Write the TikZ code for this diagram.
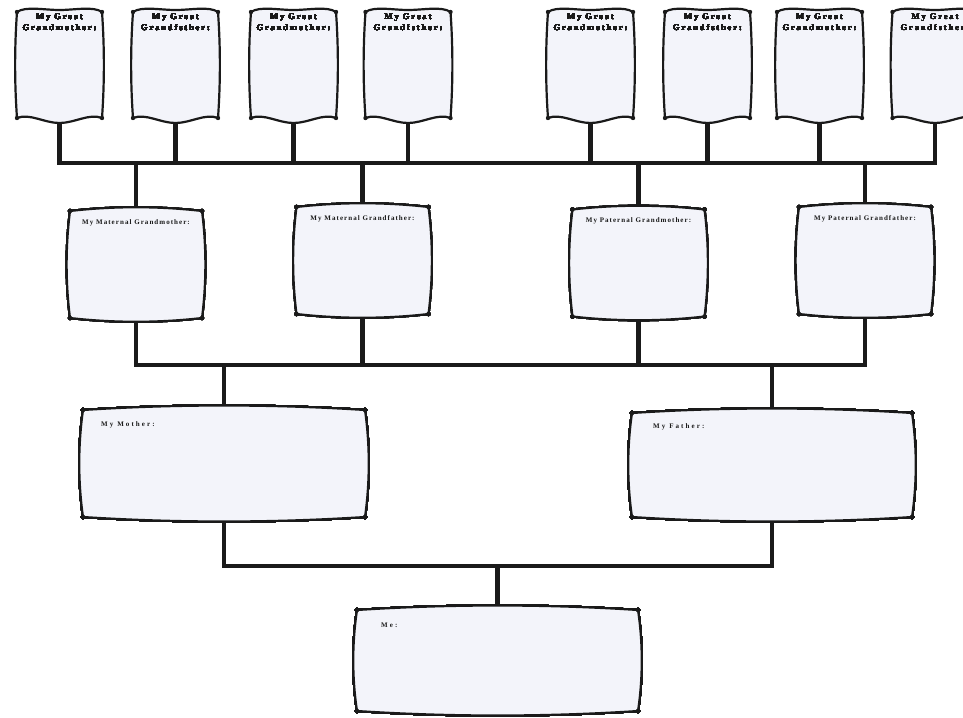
\documentclass[tikz,border=0pt]{standalone}
\usepackage{fontspec}
\setmainfont{Liberation Serif}
\newfontfamily\greatfont[LetterSpace=22]{Liberation Serif}
\newfontfamily\grandfont[LetterSpace=15]{Liberation Serif}
\newfontfamily\parentfont[LetterSpace=30]{Liberation Serif}
\usetikzlibrary{calc}
\definecolor{boxfill}{HTML}{F3F4FA}
\definecolor{ink}{HTML}{1A1A1A}
\tikzset{
  slot/.style={rectangle, inner sep=0pt, outer sep=0pt, minimum width=#1},
  conn/.style={line width=4.5pt, draw=ink, line cap=rect},
  boxline/.style={line width=2.2pt, draw=ink, fill=boxfill, line join=miter},
  toplbl/.style={font=\greatfont\bfseries\fontsize{8.5}{11}\selectfont, align=center, inner sep=0pt, anchor=north, text=ink},
  gplbl/.style={font=\grandfont\bfseries\fontsize{7}{8}\selectfont, inner sep=0pt, anchor=north, text=ink},
  parlbl/.style={font=\parentfont\bfseries\fontsize{7}{8}\selectfont, inner sep=0pt, anchor=north west, text=ink},
}
% pillow-shaped box: all edges bulge outwards
\newcommand\pillowbox[3]{%
  \filldraw[boxline] (#1.north west)
    .. controls ($(#1.north west)!.33!(#1.north east)+(0,#2)$) and ($(#1.north west)!.67!(#1.north east)+(0,#2)$) .. (#1.north east)
    .. controls ($(#1.north east)!.33!(#1.south east)+(#3,0)$) and ($(#1.north east)!.67!(#1.south east)+(#3,0)$) .. (#1.south east)
    .. controls ($(#1.south east)!.33!(#1.south west)+(0,-#2)$) and ($(#1.south east)!.67!(#1.south west)+(0,-#2)$) .. (#1.south west)
    .. controls ($(#1.south west)!.33!(#1.north west)+(-#3,0)$) and ($(#1.south west)!.67!(#1.north west)+(-#3,0)$) .. cycle;
  \foreach \c in {north west,north east,south east,south west} \fill[ink] (#1.\c) circle (2.3);
}
% scroll-shaped box for the top row
\newcommand\scrollbox[1]{%
  \filldraw[boxline] (#1.north west)
    .. controls ($(#1.north west)!.10!(#1.north east)+(0,6)$) and ($(#1.north west)!.32!(#1.north east)+(0,2)$) .. ($(#1.north west)!.5!(#1.north east)+(0,2)$)
    .. controls ($(#1.north west)!.68!(#1.north east)+(0,2)$) and ($(#1.north west)!.90!(#1.north east)+(0,6)$) .. (#1.north east)
    .. controls ($(#1.north east)!.33!(#1.south east)+(2.5,0)$) and ($(#1.north east)!.67!(#1.south east)+(2.5,0)$) .. (#1.south east)
    .. controls ($(#1.south east)!.15!(#1.south west)+(0,5)$) and ($(#1.south east)!.32!(#1.south west)+(0,-5)$) .. ($(#1.south east)!.5!(#1.south west)+(0,-5)$)
    .. controls ($(#1.south east)!.68!(#1.south west)+(0,-5)$) and ($(#1.south east)!.85!(#1.south west)+(0,5)$) .. (#1.south west)
    .. controls ($(#1.south west)!.33!(#1.north west)+(-2.5,0)$) and ($(#1.south west)!.67!(#1.north west)+(-2.5,0)$) .. cycle;
  \foreach \c in {north west,north east,south east,south west} \fill[ink] (#1.\c) circle (2.2);
}
\begin{document}
\begin{tikzpicture}[x=1pt,y=1pt]
\useasboundingbox[fill=white] (0,0) rectangle (963,-717);
% ---- slots (box outlines by corners)
\foreach \n/\x in {g1/59.5,g2/175.5,g3/293.5,g4/408,g5/590.5,g6/707.5,g7/819.5,g8/935}
  \node[slot=85pt, minimum height=106pt] (\n) at (\x,-65) {};
\node[slot=132pt, minimum height=107pt] (mgm) at (136,-264.5) {};
\node[slot=132pt, minimum height=107pt] (mgf) at (362.5,-260.5) {};
\node[slot=132pt, minimum height=107pt] (pgm) at (638.5,-263) {};
\node[slot=132pt, minimum height=107pt] (pgf) at (865,-260.5) {};
\node[slot=282pt, minimum height=107pt] (mother) at (224,-463.5) {};
\node[slot=280pt, minimum height=104pt] (father) at (772,-465) {};
\node[slot=281pt, minimum height=101pt] (me) at (497.5,-660.5) {};
\coordinate (bus1) at (0,-163);
\coordinate (bus2) at (0,-365);
\coordinate (bus3) at (0,-566);
% ---- connectors
\foreach \n in {g1,g2,g3,g4,g5,g6,g7,g8}
  \draw[conn] (\n.south) -- (\n.south |- bus1);
\draw[conn] (g1.south |- bus1) -- (g8.south |- bus1);
\foreach \n in {mgm,mgf,pgm,pgf} {
  \draw[conn] (\n.north) -- (\n.north |- bus1);
  \draw[conn] (\n.south) -- (\n.south |- bus2);
}
\draw[conn] (mgm.south |- bus2) -- (pgf.south |- bus2);
\foreach \n in {mother,father} {
  \draw[conn] (\n.north) -- (\n.north |- bus2);
  \draw[conn] (\n.south) -- (\n.south |- bus3);
}
\draw[conn] (mother.south |- bus3) -- (father.south |- bus3);
\draw[conn] (me.north) -- (me.north |- bus3);
% ---- boxes
\foreach \n in {g1,g2,g3,g4,g5,g6,g7,g8} \scrollbox{\n}
\foreach \n in {mgm,mgf,pgm,pgf} \pillowbox{\n}{5}{4.5}
\foreach \n in {mother,father,me} \pillowbox{\n}{6}{5}
% ---- labels
\foreach \n/\w in {g1/Grandmother,g2/Grandfsther,g3/Grandmother,g4/Grandfsther,g5/Grandmother,g6/Grandfsther,g7/Grandmother,g8/Grandfsther}
  \node[toplbl] (t\n) at ([yshift=-2pt]\n.north) {My Great\\\w:};
\node[gplbl] (tmgm) at ([yshift=-8pt]mgm.north) {My Maternal Grandmother:};
\node[gplbl] (tmgf) at ([yshift=-8pt]mgf.north) {My Maternal Grandfather:};
\node[gplbl] (tpgm) at ([yshift=-8pt]pgm.north) {My Paternal Grandmother:};
\node[gplbl] (tpgf) at ([yshift=-8pt]pgf.north) {My Paternal Grandfather:};
\node[parlbl] (tmother) at ([shift={(18pt,-11pt)}]mother.north west) {My Mother:};
\node[parlbl] (tfather) at ([shift={(21pt,-10pt)}]father.north west) {My Father:};
\node[parlbl] (tme) at ([shift={(24pt,-13pt)}]me.north west) {Me:};
\end{tikzpicture}
\end{document}
